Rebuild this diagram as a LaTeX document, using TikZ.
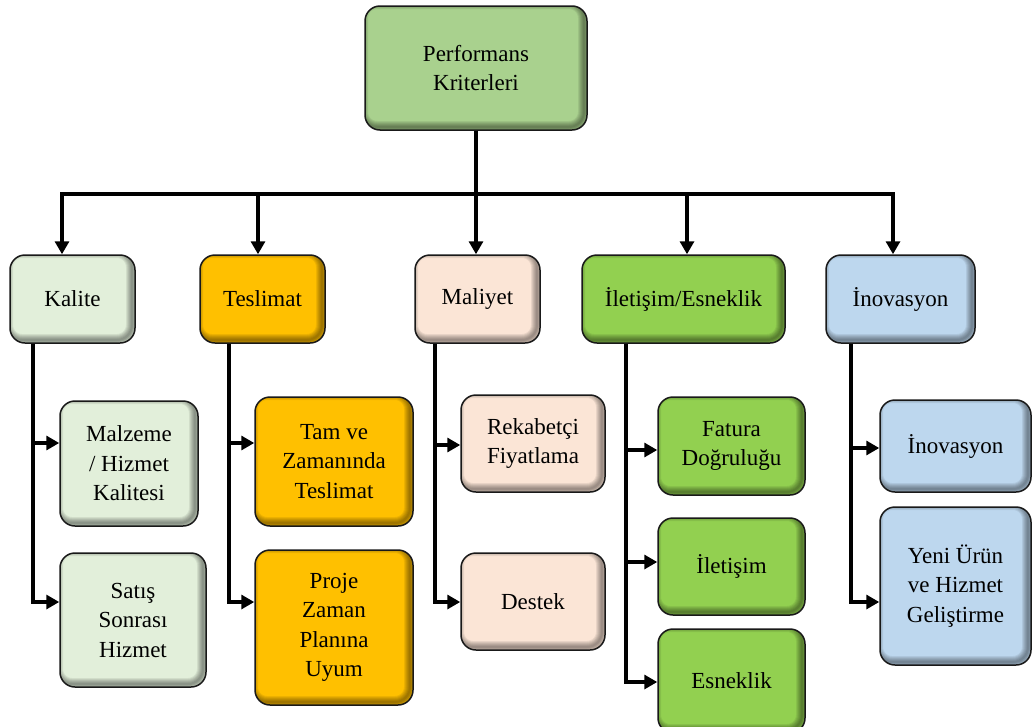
\documentclass[tikz,border=0pt]{standalone}
\usepackage{fontspec}
\setmainfont{Liberation Serif}
\usetikzlibrary{arrows.meta}

\definecolor{topfill}{HTML}{A9D18E}
\definecolor{kalfill}{HTML}{E2EFDA}
\definecolor{tesfill}{HTML}{FFC000}
\definecolor{malfill}{HTML}{FBE5D6}
\definecolor{iletfill}{HTML}{92D050}
\definecolor{inofill}{HTML}{BDD7EE}

\tikzset{
  edgeshade/.style={path picture={
    \foreach \w in {2,4,...,12}{
      \draw[black, opacity=0.075, line width=\w pt, rounded corners=15pt]
        ([xshift=-3pt,yshift=3pt]path picture bounding box.south west) rectangle
        ([xshift=-3pt,yshift=3pt]path picture bounding box.north east);
    }}},
  box/.style={draw=black!90, line width=1.5pt, rounded corners=15pt, align=center,
    inner sep=2pt, text=black, font=\fontsize{23}{29.5}\selectfont, edgeshade},
  arr/.style={line width=3.2pt, -{Triangle[length=13pt,width=14pt]}},
}

\begin{document}
\begin{tikzpicture}[x=1pt,y=-1pt]
\useasboundingbox (0,0) rectangle (1033,726);
\clip (0,0) rectangle (1033,726);

% root
\node[box, fill=topfill, minimum width=222pt, minimum height=124pt] (top) at (476,68) {Performans\\Kriterleri};

% categories
\node[box, fill=kalfill,  minimum width=125pt, minimum height=88pt] (kal) at (72.5,299) {Kalite};
\node[box, fill=tesfill,  minimum width=125pt, minimum height=88pt] (tes) at (262.5,299) {Teslimat};
\node[box, fill=malfill,  minimum width=125pt, minimum height=88pt] (mal) at (477.5,299) {Maliyet};
\node[box, fill=iletfill, minimum width=203pt, minimum height=88pt] (ilet) at (683.5,299) {İletişim/Esneklik};
\node[box, fill=inofill,  minimum width=149pt, minimum height=88pt] (ino) at (900.5,299) {İnovasyon};

% sub-criteria
\node[box, fill=kalfill, minimum width=138pt, minimum height=125pt] (k1) at (129,463.5) {Malzeme\\/ Hizmet\\Kalitesi};
\node[box, fill=kalfill, minimum width=146pt, minimum height=134pt] (k2) at (133,620) {Satış\\Sonrası\\Hizmet};

\node[box, fill=tesfill, minimum width=158pt, minimum height=129pt] (t1) at (334,461.5) {Tam ve\\Zamanında\\Teslimat};
\node[box, fill=tesfill, minimum width=158pt, minimum height=155pt] (t2) at (334,627.5) {Proje\\Zaman\\Planına\\Uyum};

\node[box, fill=malfill, minimum width=144pt, minimum height=97pt] (m1) at (533,443.5) {Rekabetçi\\Fiyatlama};
\node[box, fill=malfill, minimum width=144pt, minimum height=97pt] (m2) at (533,601.5) {Destek};

\node[box, fill=iletfill, minimum width=147pt, minimum height=98pt] (i1) at (731.5,446) {Fatura\\Doğruluğu};
\node[box, fill=iletfill, minimum width=147pt, minimum height=97pt] (i2) at (731.5,566.5) {İletişim};
\node[box, fill=iletfill, minimum width=147pt, minimum height=104pt] (i3) at (731.5,681) {Esneklik};

\node[box, fill=inofill, minimum width=151pt, minimum height=92pt] (n1) at (955.5,446) {İnovasyon};
\node[box, fill=inofill, minimum width=151pt, minimum height=158pt] (n2) at (955.5,586) {Yeni Ürün\\ve Hizmet\\Geliştirme};

% bus level and spine positions
\coordinate (bus) at (0,194);
\coordinate (kx) at (33,0);
\coordinate (tx) at (229,0);
\coordinate (mx) at (435,0);
\coordinate (ix) at (626,0);
\coordinate (nx) at (851,0);

% root to categories
\draw[arr] (top.south) -- (top.south |- bus) -| ([xshift=-10.5pt]kal.north);
\draw[arr] (top.south) -- (top.south |- bus) -| ([xshift=-4.5pt]tes.north);
\draw[arr] (top.south) -- (mal.north -| top.south);
\draw[arr] (top.south) -- (top.south |- bus) -| ([xshift=3.5pt]ilet.north);
\draw[arr] (top.south) -- (top.south |- bus) -| ([xshift=-7.5pt]ino.north);

% categories to sub-criteria
\draw[arr] (kal.south -| kx) |- ([yshift=20.5pt]k1.west);
\draw[arr] (kal.south -| kx) |- ([yshift=18pt]k2.west);

\draw[arr] (tes.south -| tx) |- ([yshift=18.5pt]t1.west);
\draw[arr] (tes.south -| tx) |- ([yshift=25.5pt]t2.west);

\draw[arr] (mal.south -| mx) |- ([yshift=-1.5pt]m1.west);
\draw[arr] (mal.south -| mx) |- ([yshift=-0.5pt]m2.west);

\draw[arr] (ilet.south -| ix) |- ([yshift=-4pt]i1.west);
\draw[arr] (ilet.south -| ix) |- ([yshift=4.5pt]i2.west);
\draw[arr] (ilet.south -| ix) |- ([yshift=-1pt]i3.west);

\draw[arr] (ino.south -| nx) |- ([yshift=-2pt]n1.west);
\draw[arr] (ino.south -| nx) |- ([yshift=-16pt]n2.west);
\end{tikzpicture}
\end{document}
